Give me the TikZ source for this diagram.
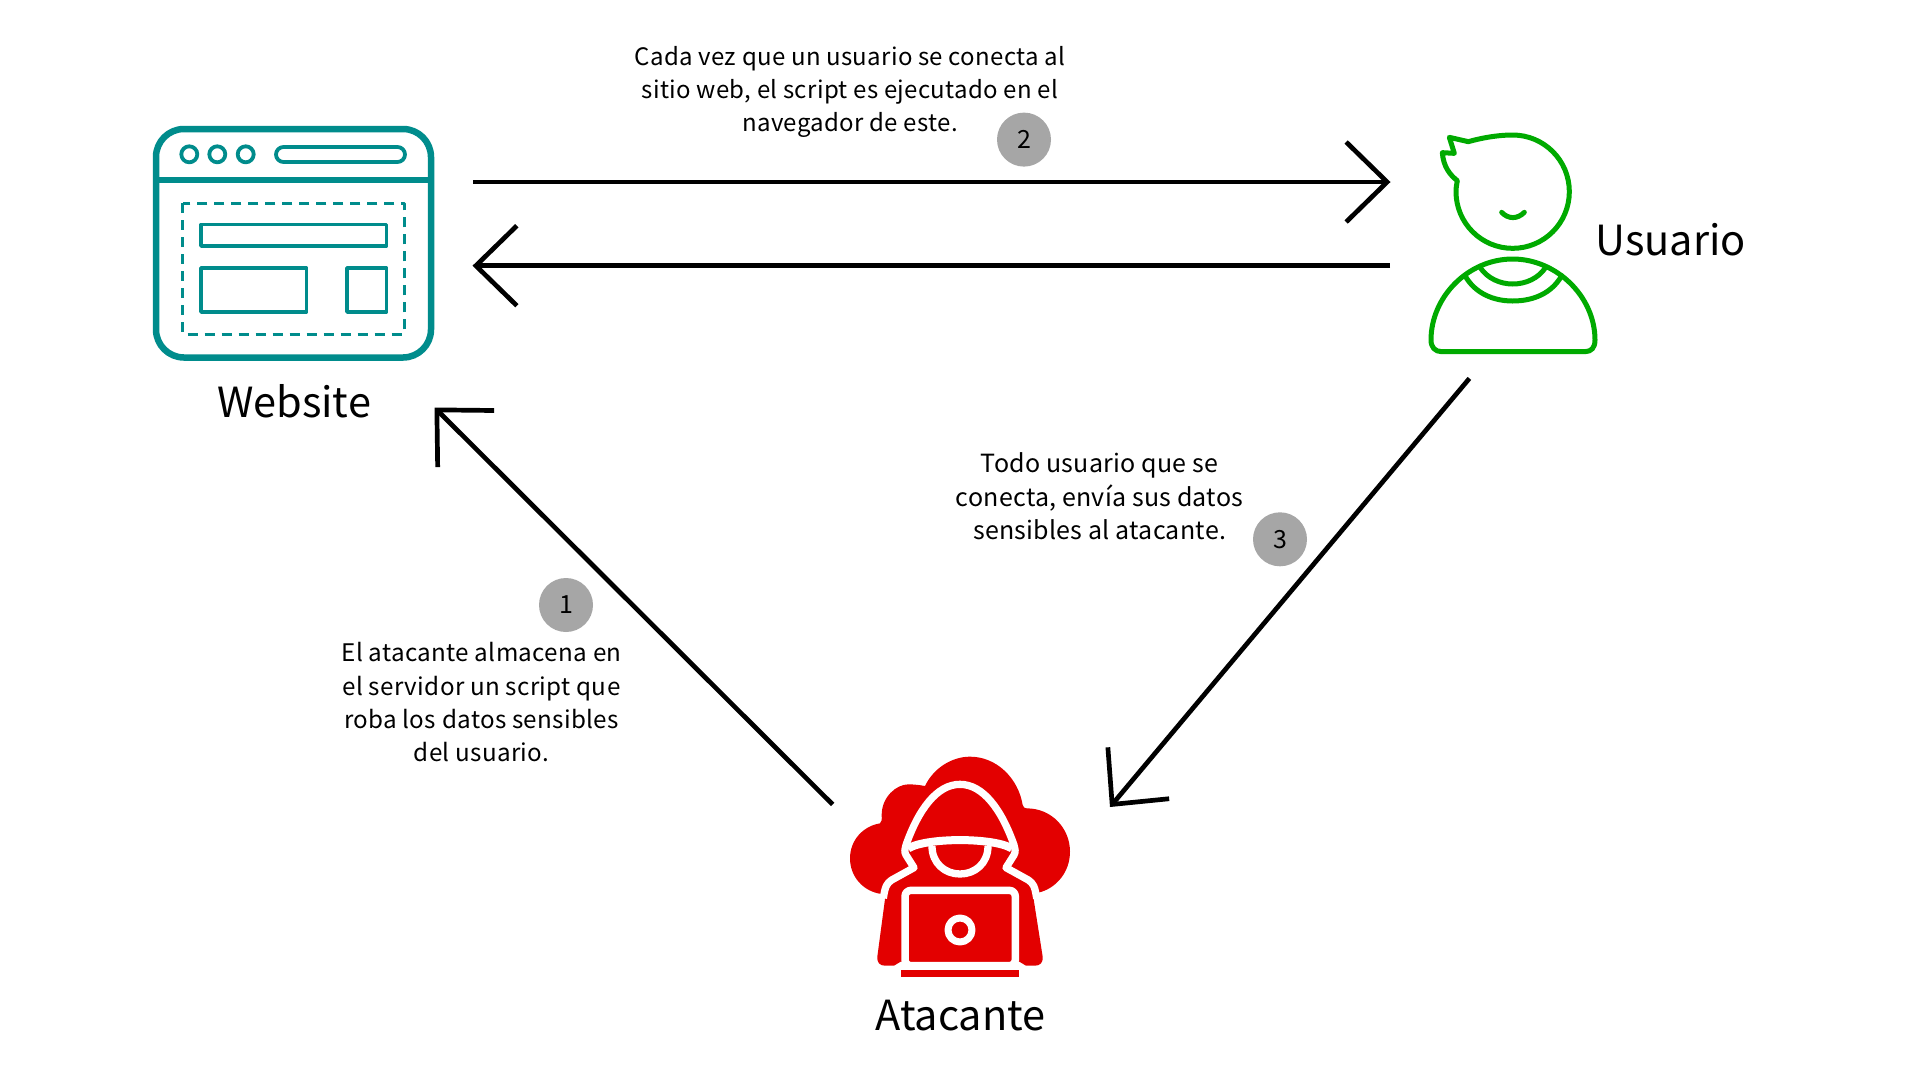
\documentclass[tikz,border=0pt]{standalone}
\usepackage{fontspec}
\setmainfont{Noto Sans CJK SC}
\usetikzlibrary{arrows.meta}
\definecolor{tealc}{HTML}{008C8C}
\definecolor{greenc}{HTML}{00AA00}
\definecolor{redc}{HTML}{E30000}
\definecolor{badge}{HTML}{A6A6A6}
\tikzset{
  flow/.style={line width=4.7pt,draw=black,-{Straight Barb[length=41pt,width=80pt,line width=4.7pt]}},
  note/.style={align=center,font=\fontsize{24}{33}\selectfont\addfontfeatures{LetterSpace=1.35},inner sep=0pt},
  noteleft/.style={align=center,font=\fontsize{24.2}{33.2}\selectfont\addfontfeatures{LetterSpace=1.4},inner sep=0pt},
  notewide/.style={align=center,font=\fontsize{25}{33.5}\selectfont\addfontfeatures{LetterSpace=1},inner sep=0pt},
  biglabel/.style={font=\fontsize{41.5}{50}\selectfont,inner sep=0pt},
  stepnum/.style={circle,fill=badge,minimum size=54pt,inner sep=0pt,font=\fontsize{25}{30}\selectfont},
  tealline/.style={draw=tealc,line join=round},
  greenline/.style={draw=greenc,line width=5pt,line join=round,line cap=round},
  cut/.style={draw=white,line join=round}
}
\begin{document}
\begin{tikzpicture}[x=1pt,y=-1pt]
\useasboundingbox (0,0) rectangle (1920,1080);
\fill[white] (0,0) rectangle (1920,1080);
% website icon
\draw[tealline,line width=6.5pt,rounded corners=28pt] (156,129) rectangle (431,357.5);
\draw[tealline,line width=6pt] (156,180) -- (431,180);
\foreach \cx in {189.3,217.3,245.7}
  \draw[tealline,line width=3.8pt] (\cx,154.3) circle (8pt);
\draw[tealline,line width=3.8pt,rounded corners=7.5pt] (276,147) rectangle (405,162);
\draw[tealline,line width=3pt,dash pattern=on 10pt off 7pt] (182.7,203) rectangle (404,334);
\draw[tealline,line width=3.8pt] (201,224.5) rectangle (386.5,246);
\draw[tealline,line width=3.8pt] (201,268) rectangle (306.5,312);
\draw[tealline,line width=3.8pt] (347,268) rectangle (386.5,312);
% user icon
\begin{scope}[shift={(1400,110)},x=0.33333pt,y=-0.33333pt]
\draw[greenline] (338,75) .. controls (432,75) and (508,151) .. (508,245)
  .. controls (508,339) and (432,415) .. (338,415)
  .. controls (244,415) and (168,339) .. (168,245)
  .. controls (168,233) and (170,222) .. (172,212)
  .. controls (150,195) and (130,170) .. (127,128)
  -- (163,130) -- (148,82)
  -- (205,95) .. controls (240,85) and (290,75) .. (338,75) -- cycle;
\draw[greenline] (305,307) .. controls (325,328) and (352,328) .. (373,307);
\draw[greenline] (338,447) .. controls (205,447) and (93,560) .. (93,690)
  .. controls (93,712) and (105,725) .. (125,725) -- (555,725)
  .. controls (575,725) and (585,712) .. (585,690)
  .. controls (585,560) and (470,447) .. (338,447) -- cycle;
\draw[greenline] (195,497) .. controls (225,550) and (280,573) .. (338,573) .. controls (400,573) and (455,550) .. (485,497);
\draw[greenline] (240,472) .. controls (262,505) and (300,522) .. (338,522) .. controls (378,522) and (415,505) .. (437,472);
\end{scope}
% attacker icon
\begin{scope}[shift={(830,740)},x=0.33333pt,y=-0.33333pt]
\fill[redc] (155,462) .. controls (100,455) and (60,410) .. (60,355)
  .. controls (60,300) and (100,258) .. (150,250)
  .. controls (155,245) and (156,240) .. (155,225)
  .. controls (155,170) and (200,133) .. (235,133)
  .. controls (250,133) and (270,135) .. (285,138)
  .. controls (310,85) and (365,50) .. (420,50)
  .. controls (500,50) and (565,115) .. (578,195)
  .. controls (580,203) and (585,205) .. (590,205)
  .. controls (665,205) and (720,265) .. (720,335)
  .. controls (720,395) and (680,445) .. (625,458) -- cycle;
\fill[redc] (170,440) -- (142,650) .. controls (140,668) and (150,677) .. (165,677)
  -- (192,677) -- (212,665) -- (568,665) -- (588,677) -- (615,677)
  .. controls (630,677) and (640,668) .. (638,650) -- (605,440) -- cycle;
\draw[cut,line width=7.3pt] (160,475) .. controls (165,440) and (170,430) .. (185,420)
  -- (252,383) -- (228,345) .. controls (222,335) and (225,325) .. (228,315)
  .. controls (265,210) and (320,133) .. (390,133)
  .. controls (460,133) and (515,210) .. (552,315)
  .. controls (555,325) and (558,335) .. (552,345)
  -- (528,383) -- (595,420) .. controls (610,430) and (615,440) .. (620,475);
\draw[cut,line width=8pt] (235,325) .. controls (290,292) and (490,292) .. (545,325);
\draw[cut,line width=7.3pt] (306,318) .. controls (306,370) and (345,402) .. (390,402)
  .. controls (435,402) and (474,370) .. (474,318);
\draw[cut,line width=7.5pt,rounded corners=6pt,fill=redc] (225,451) rectangle (556,677);
\draw[cut,line width=7pt] (390,570) circle (36);
\fill[redc] (213,689) rectangle (567,712);
\end{scope}
% labels
\node[biglabel] (lweb) at (294,401) {Website};
\node[biglabel] (luser) at (1670.5,239.5) {Usuario};
\node[biglabel] (latk) at (960.5,1016) {Atacante};
\node[note] (t2) at (850,92) {Cada vez que un usuario se conecta al\\sitio web, el script es ejecutado en el\\navegador de este.};
\node[notewide] (t3) at (1099.6,496.5) {Todo usuario que se\\conecta, envía sus datos\\sensibles al atacante.};
\node[noteleft] (t1) at (481.5,702.3) {El atacante almacena en\\el servidor un script que\\roba los datos sensibles\\del usuario.};
\node[stepnum] (n1) at (566,605) {1};
\node[stepnum] (n2) at (1024,139.6) {2};
\node[stepnum] (n3) at (1280,539.3) {3};
% connector ends
\coordinate (webOut) at (473,182);
\coordinate (userIn) at (1390.5,182);
\coordinate (userOut) at (1390,265.7);
\coordinate (webIn) at (472.5,265.7);
\coordinate (userDown) at (1469.4,378.4);
\coordinate (atkIn) at (1110,807);
\coordinate (atkOut) at (832.7,804.5);
\coordinate (webUp) at (434.5,407.5);
\draw[flow] (webOut) -- (userIn);
\draw[flow] (userOut) -- (webIn);
\draw[flow] (userDown) -- (atkIn);
\draw[flow] (atkOut) -- (webUp);
\end{tikzpicture}
\end{document}
